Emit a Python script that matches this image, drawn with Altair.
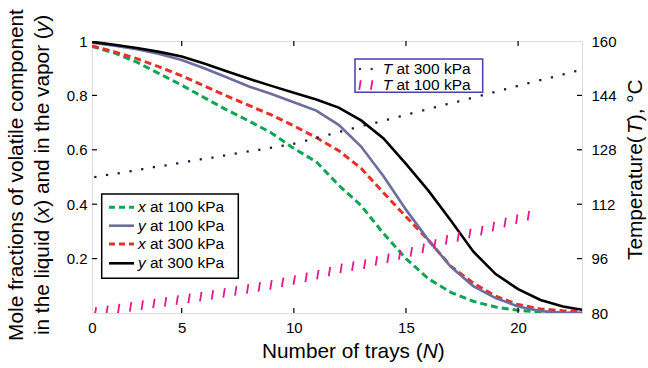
import altair as alt
import pandas as pd

FONT = "Liberation Sans"

# Tray numbers and mole fractions of the volatile component
trays = list(range(1, 24))
x_100 = [0.980, 0.956, 0.922, 0.880, 0.838, 0.792, 0.747, 0.706, 0.662, 0.605,
         0.556, 0.470, 0.395, 0.292, 0.200, 0.126, 0.076, 0.043, 0.022, 0.010,
         0.003, 0.000, 0.000]
y_100 = [0.994, 0.983, 0.970, 0.952, 0.930, 0.900, 0.867, 0.833, 0.805, 0.775,
         0.744, 0.692, 0.612, 0.503, 0.380, 0.268, 0.170, 0.099, 0.055, 0.024,
         0.007, 0.001, 0.000]
x_300 = [0.982, 0.960, 0.935, 0.905, 0.872, 0.835, 0.798, 0.763, 0.728, 0.688,
         0.645, 0.597, 0.532, 0.442, 0.354, 0.268, 0.172, 0.110, 0.062, 0.031,
         0.015, 0.008, 0.005]
y_300 = [0.997, 0.986, 0.974, 0.960, 0.943, 0.917, 0.889, 0.861, 0.835, 0.810,
         0.785, 0.755, 0.708, 0.642, 0.548, 0.450, 0.340, 0.226, 0.143, 0.088,
         0.048, 0.024, 0.010]

# Temperature profiles (sampled positions along the column)
t_pos = [1.15, 1.67, 2.19, 2.72, 3.24, 3.76, 4.28, 4.80, 5.33, 5.85,
         6.37, 6.89, 7.41, 7.94, 8.46, 8.98, 9.50, 10.02, 10.55, 11.07,
         11.59, 12.11, 12.63, 13.16, 13.68, 14.20, 14.72, 15.24, 15.77, 16.29,
         16.81, 17.33, 17.85, 18.38, 18.90, 19.42, 19.94, 20.46, 20.99, 21.51,
         22.03, 22.55]
t_300 = [120.0, 120.6, 121.1, 121.7, 122.3, 122.9, 123.4, 124.0, 124.6, 125.2,
         125.7, 126.3, 126.9, 127.5, 128.0, 128.6, 129.2, 129.8, 130.7, 131.6,
         132.5, 133.4, 134.3, 135.2, 136.0, 136.9, 137.8, 138.7, 139.6, 140.5,
         141.4, 142.2, 143.1, 144.0, 144.9, 145.8, 146.7, 147.6, 148.5, 149.3,
         150.2, 151.1]
t_100 = [80.3, 80.8, 81.3, 81.8, 82.3, 82.8, 83.3, 83.8, 84.3, 84.8,
         85.3, 85.9, 86.5, 87.1, 87.7, 88.3, 89.0, 89.7, 90.5, 91.3,
         92.2, 93.1, 93.8, 94.4, 95.3, 96.1, 97.1, 98.0, 99.0, 100.3,
         101.5, 102.4, 103.4, 104.2, 105.4, 106.6, 107.6, 108.6]

x_ticks = [5, 10, 15, 20]
frac_ticks = [0.2, 0.4, 0.6, 0.8]
temp_ticks = [96, 112, 128, 144]

W, H = 490, 272
GREEN, SLATE, RED, MAGENTA, DOTS = "#0fa456", "#6a6d9d", "#e8302a", "#e8168e", "#16163a"
TICK_PATH = "M-0.16,1L0.16,-1"
LBL = dict(labelFont=FONT, labelFontSize=15, labelColor="black")

xs = alt.Scale(domain=[1, 22.85], nice=False, zero=False)
fs = alt.Scale(domain=[0, 1], nice=False, zero=False)
ts = alt.Scale(domain=[80, 160], nice=False, zero=False)

comp = pd.DataFrame({"N": trays, "x100": x_100, "y100": y_100,
                     "x300": x_300, "y300": y_300})

x_axis = alt.Axis(values=[1, 5, 10, 15, 20], title=None, grid=False, domain=False,
                  ticks=False, labelFlush=False, labelPadding=7,
                  labelExpr="datum.value == 1 ? '0' : datum.label", **LBL)
left_axis = alt.Axis(values=[0.2, 0.4, 0.6, 0.8, 1.0], title=None, grid=False,
                     domain=False, ticks=False, labelPadding=5, labelFlush=False,
                     labelExpr="datum.value == 1 ? '1' : format(datum.value, '.1f')", **LBL)
right_axis = alt.Axis(values=[80, 96, 112, 128, 144, 160], orient="right", title=None,
                      grid=False, domain=False, ticks=False, labelPadding=9,
                      labelFlush=False, **LBL)


def comp_line(col, color, width, dash=None, axis=alt.Undefined):
    kw = dict(color=color, strokeWidth=width, clip=True, strokeCap="butt")
    if dash:
        kw["strokeDash"] = dash
    return alt.Chart(comp).mark_line(**kw).encode(
        x=alt.X("N:Q", scale=xs, axis=x_axis),
        y=alt.Y(f"{col}:Q", scale=fs, axis=axis),
    )


frac_layer = alt.layer(
    comp_line("x100", GREEN, 3, [7, 4], axis=left_axis),
    comp_line("x300", RED, 3, [7, 4]),
    comp_line("y100", SLATE, 2.6),
    comp_line("y300", "black", 2.6),
    alt.Chart(pd.DataFrame({"v": frac_ticks})).mark_rule(color="black", strokeWidth=1.2)
    .encode(y=alt.Y("v:Q", scale=fs), x=alt.value(0), x2=alt.value(5)),
)

t300_df = pd.DataFrame({"N": t_pos, "T": t_300})
t100_df = pd.DataFrame({"N": t_pos[:len(t_100)], "T": t_100})

temp_layer = alt.layer(
    alt.Chart(t300_df).mark_square(size=5, color=DOTS, opacity=1, clip=True).encode(
        x=alt.X("N:Q", scale=xs), y=alt.Y("T:Q", scale=ts, axis=right_axis)),
    alt.Chart(t100_df).mark_point(shape=TICK_PATH, size=90, filled=False, color=MAGENTA,
                                  strokeWidth=1.8, opacity=1, clip=True).encode(
        x=alt.X("N:Q", scale=xs), y=alt.Y("T:Q", scale=ts)),
    alt.Chart(pd.DataFrame({"v": temp_ticks})).mark_rule(color="black", strokeWidth=1.2)
    .encode(y=alt.Y("v:Q", scale=ts), x=alt.value(W), x2=alt.value(W - 5)),
)

xt = pd.DataFrame({"N": x_ticks})
frame_ticks = alt.layer(
    alt.Chart(xt).mark_rule(color="black", strokeWidth=1.2).encode(
        x=alt.X("N:Q", scale=xs), y=alt.value(H), y2=alt.value(H - 5)),
    alt.Chart(xt).mark_rule(color="black", strokeWidth=1.2).encode(
        x=alt.X("N:Q", scale=xs), y=alt.value(0), y2=alt.value(5)),
)

one = pd.DataFrame({"k": [0]})


def label(txt, px, py, size, italic=False, angle=0, align="left"):
    return alt.Chart(one).mark_text(
        text=txt, font=FONT, fontSize=size, fontStyle="italic" if italic else "normal",
        angle=angle, align=align, baseline="middle", color="black",
    ).encode(x=alt.value(px), y=alt.value(py))


def box(x1, x2, y1, y2, stroke):
    return alt.Chart(one).mark_rect(fill="white", stroke=stroke, strokeWidth=1.5).encode(
        x=alt.value(x1), x2=alt.value(x2), y=alt.value(y1), y2=alt.value(y2))


def sample(y, color, width, dash=None):
    kw = dict(color=color, strokeWidth=width, strokeCap="butt")
    if dash:
        kw["strokeDash"] = dash
    return alt.Chart(one).mark_rule(**kw).encode(
        x=alt.value(17), x2=alt.value(42), y=alt.value(y))


LS = 15.5
# Legend for the composition curves
legend1 = [box(9.7, 146.3, 153, 237.3, "black")]
for yy, var, press, color, width, dash in [
    (166.3, "x", "100", GREEN, 3, [6, 4]),
    (184.7, "y", "100", SLATE, 2.6, None),
    (203.0, "x", "300", RED, 3, [6, 4]),
    (222.3, "y", "300", "black", 2.6, None),
]:
    legend1 += [sample(yy, color, width, dash),
                label(var, 46, yy, LS, italic=True),
                label(f"at {press} kPa", 58, yy, LS)]

# Legend for the temperature profiles
mk = pd.DataFrame({"px": [268, 279.7]})
legend2 = [
    box(263, 390.7, 18, 51.3, "#4b40a6"),
    alt.Chart(mk).mark_square(size=5, color="#2a2a8a", opacity=1).encode(
        x=alt.X("px:Q", scale=None), y=alt.value(28)),
    alt.Chart(mk).mark_point(shape=TICK_PATH, size=90, filled=False, color=MAGENTA,
                             strokeWidth=1.8, opacity=1).encode(
        x=alt.X("px:Q", scale=None), y=alt.value(44)),
    label("T", 290.7, 28, LS, italic=True),
    label("at 300 kPa", 304.5, 28, LS),
    label("T", 290.7, 44, LS, italic=True),
    label("at 100 kPa", 304.5, 44, LS),
]

TS = 20.8
titles = [
    label("Number of trays (", 170, 311, TS),
    label("N", 330.7, 311, TS, italic=True),
    label(")", 345.7, 311, TS),
    label("Temperature(", 544, 219, TS, angle=270),
    label("T", 544, 93, TS, italic=True, angle=270),
    label("), °C", 544, 80.3, TS, angle=270),
    label("Mole fractions of volatile component", -75, 134, TS, angle=270, align="center"),
    label("in the liquid (", -49, 294.1, TS, angle=270),
    label("x", -49, 176.2, TS, italic=True, angle=270),
    label(") and in the vapor (", -49, 165.8, TS, angle=270),
    label("y", -49, -8.8, TS, italic=True, angle=270),
    label(")", -49, -19.2, TS, angle=270),
]

chart = alt.layer(
    frac_layer, temp_layer, frame_ticks, *legend1, *legend2, *titles
).resolve_scale(y="independent").properties(
    width=W, height=H, autosize="none",
    padding={"left": 92, "top": 41, "right": 66, "bottom": 55},
).configure_view(stroke="black", strokeWidth=1.8).configure(background="white")

chart.save("out.html", embed_options={"renderer": "svg", "actions": False})
